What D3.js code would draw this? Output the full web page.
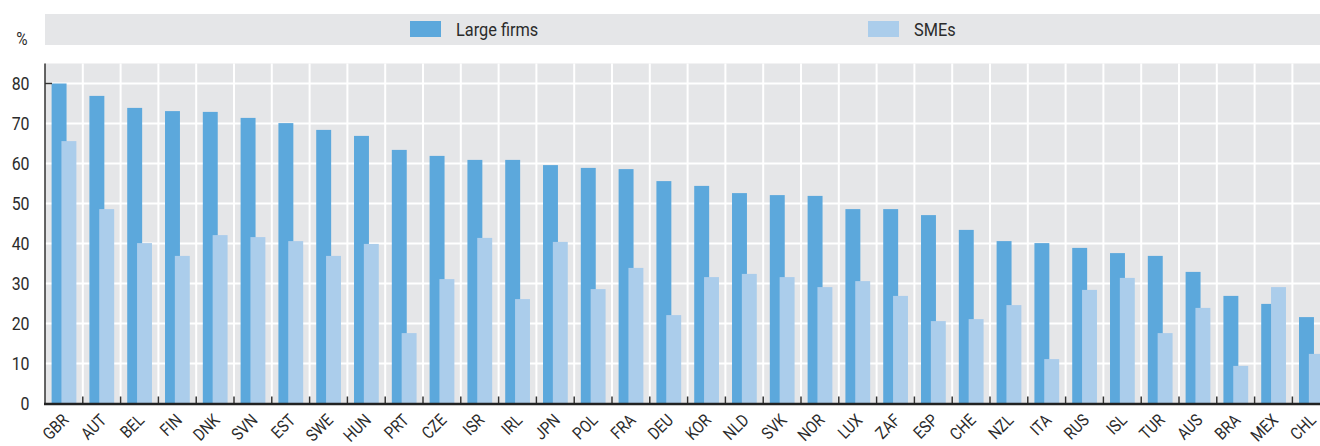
<!DOCTYPE html>
<html>
<head>
<meta charset="utf-8">
<script src="https://cdn.jsdelivr.net/npm/d3@7"></script>
<style>
  body { margin: 0; background: #fff; }
  svg text { font-family: Roboto, "Liberation Sans", sans-serif; fill: #2b2b2b; }
</style>
</head>
<body>
<svg id="main_chart" width="1320" height="446"></svg>
<script>
// categories and values
const countries = ["GBR","AUT","BEL","FIN","DNK","SVN","EST","SWE","HUN","PRT","CZE","ISR","IRL","JPN","POL","FRA","DEU","KOR","NLD","SVK","NOR","LUX","ZAF","ESP","CHE","NZL","ITA","RUS","ISL","TUR","AUS","BRA","MEX","CHL"];
const largeFirms = [80,76.9,73.9,73.1,72.9,71.4,70.1,68.4,66.9,63.4,61.9,60.9,60.9,59.6,58.9,58.6,55.6,54.4,52.6,52.1,51.9,48.6,48.6,47.1,43.4,40.6,40.1,38.9,37.6,36.9,32.9,26.9,24.9,21.6];
const smes = [65.6,48.6,40.1,36.9,42.1,41.6,40.6,36.9,39.9,17.6,31.1,41.4,26.1,40.4,28.6,33.9,22.1,31.6,32.4,31.6,29.1,30.6,26.9,20.6,21.1,24.6,11.1,28.4,31.4,17.6,23.9,9.4,29.1,12.4];
const yTicks = [0,10,20,30,40,50,60,70,80];
const seriesNames = ["Large firms","SMEs"];
const colors = ["#5ca8dc","#abcdeb"];

const svg = d3.select("#main_chart");
const narrow = 0.86; // squeeze text to look like the condensed face of the original

const xScale = d3.scaleBand()
    .domain(countries)
    .range([45, 45 + countries.length * 37.8])
    .padding(0);
const bw = xScale.bandwidth();

const yScale = d3.scaleLinear()
    .domain([0,85])
    .range([403.5,63.5]);

// legend strip
svg.append("rect")
    .attr("x",45).attr("y",14)
    .attr("width",1275).attr("height",31)
    .attr("fill","#e5e6e8");

const legendX = [410,868];
seriesNames.forEach((s,i) => {
    svg.append("rect")
        .attr("x",legendX[i]).attr("y",21)
        .attr("width",31).attr("height",16)
        .attr("fill",colors[i]);
    svg.append("text")
        .attr("transform","translate(" + (legendX[i] + 46) + ",29.5) scale(" + narrow + ",1)")
        .attr("dy","0.35em")
        .style("font-size","19px")
        .text(s);
});

svg.append("text")
    .attr("transform","translate(22,39) scale(" + narrow + ",1)")
    .attr("text-anchor","middle")
    .attr("dy","0.35em")
    .style("font-size","18px")
    .text("%");

// plot background
svg.append("rect")
    .attr("x",45).attr("y",yScale(85))
    .attr("width",1275).attr("height",yScale(0) - yScale(85))
    .attr("fill","#e5e6e8");

// horizontal grid
svg.append("g").selectAll("line")
    .data(yTicks.slice(1))
    .enter().append("line")
    .attr("x1",45).attr("x2",1320)
    .attr("y1",d => yScale(d)).attr("y2",d => yScale(d))
    .attr("stroke","#fff").attr("stroke-width",2);

// vertical grid at band boundaries
svg.append("g").selectAll("line")
    .data(countries.slice(1))
    .enter().append("line")
    .attr("x1",d => xScale(d)).attr("x2",d => xScale(d))
    .attr("y1",yScale(85)).attr("y2",yScale(0))
    .attr("stroke","#fff").attr("stroke-width",2);

// bars
const groups = svg.append("g").selectAll("g")
    .data(countries)
    .enter().append("g");

groups.append("rect")
    .attr("x",d => xScale(d) + bw * 0.175)
    .attr("width",bw * 0.395)
    .attr("y",(d,i) => yScale(largeFirms[i]))
    .attr("height",(d,i) => yScale(0) - yScale(largeFirms[i]))
    .attr("fill",colors[0]);

groups.append("rect")
    .attr("x",d => xScale(d) + bw * 0.435)
    .attr("width",bw * 0.395)
    .attr("y",(d,i) => yScale(smes[i]))
    .attr("height",(d,i) => yScale(0) - yScale(smes[i]))
    .attr("fill",colors[1]);

// y axis
const yAxis = svg.append("g")
    .attr("transform","translate(45,0)")
    .call(d3.axisLeft(yScale).tickValues(yTicks).tickSize(0).tickPadding(18));
yAxis.select(".domain").remove();
yAxis.selectAll("text")
    .style("font-size","18.5px")
    .attr("fill","#2b2b2b")
    .attr("transform","scale(" + narrow + ",1)");

svg.append("line")
    .attr("x1",45).attr("x2",45)
    .attr("y1",yScale(85)).attr("y2",yScale(0))
    .attr("stroke","#333").attr("stroke-width",1.5);
svg.append("line")
    .attr("x1",45).attr("x2",52)
    .attr("y1",yScale(80)).attr("y2",yScale(80))
    .attr("stroke","#333").attr("stroke-width",1.5);

// x axis
svg.append("g").selectAll("line")
    .data(countries.slice(1))
    .enter().append("line")
    .attr("x1",d => xScale(d)).attr("x2",d => xScale(d))
    .attr("y1",yScale(0)).attr("y2",yScale(0) - 7)
    .attr("stroke","#333").attr("stroke-width",1.5);

svg.append("line")
    .attr("x1",44).attr("x2",1320)
    .attr("y1",yScale(0) + 0.5).attr("y2",yScale(0) + 0.5)
    .attr("stroke","#222").attr("stroke-width",2.5);

svg.append("g").selectAll("text")
    .data(countries)
    .enter().append("text")
    .attr("text-anchor","end")
    .attr("transform",d => "translate(" + (xScale(d) + bw / 2 + 1.5) + ",417) rotate(-45) scale(" + narrow + ",1)")
    .attr("dy","0.35em")
    .style("font-size","17px")
    .text(d => d);
</script>
</body>
</html>
